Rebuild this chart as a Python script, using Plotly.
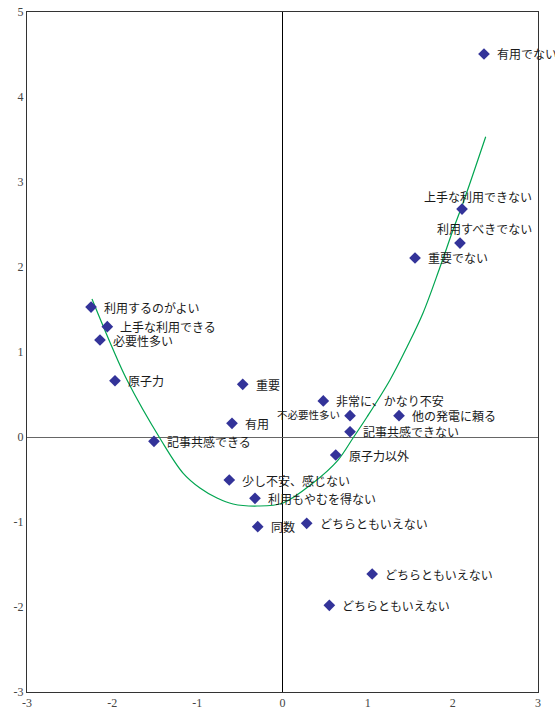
import plotly.graph_objects as go

# ---- data ----
labels = ["有用でない", "上手な利用できない", "利用すべきでない", "重要でない",
          "利用するのがよい", "上手な利用できる", "必要性多い", "原子力", "重要", "有用",
          "記事共感できる", "非常に、かなり不安", "不必要性多い", "他の発電に頼る",
          "記事共感できない", "原子力以外", "少し不安、感じない", "利用もやむを得ない",
          "同数", "どちらともいえない", "どちらともいえない", "どちらともいえない"]
x_vals = [2.366, 2.108, 2.084, 1.556,
          -2.248, -2.057, -2.143, -1.967, -0.467, -0.593,
          -1.509, 0.479, 0.793, 1.368,
          0.793, 0.625, -0.625, -0.323,
          -0.291, 0.284, 1.053, 0.550]
y_vals = [4.506, 2.682, 2.282, 2.106,
          1.529, 1.298, 1.141, 0.662, 0.620, 0.161,
          -0.051, 0.424, 0.251, 0.251,
          0.062, -0.212, -0.506, -0.722,
          -1.055, -1.015, -1.612, -1.980]

# fitted curve, points
curve_x = [-2.237, -2.002, -1.826, -1.427, -1.168, -0.969, -0.769, -0.581, -0.299,
           0.006, 0.358, 0.652, 0.828, 0.992, 1.262, 1.462, 1.650, 1.850, 2.002, 2.120, 2.386]
curve_y = [1.624, 1.059, 0.671, -0.035, -0.424, -0.600, -0.718, -0.788, -0.812,
           -0.776, -0.541, -0.271, -0.012, 0.235, 0.671, 1.059, 1.459, 2.000, 2.435, 2.753, 3.533]

x_ticks = [-3, -2, -1, 0, 1, 2, 3]
y_ticks = [-3, -2, -1, 0, 1, 2, 3, 4, 5]

# ---- figure ----
fig = go.Figure()
fig.add_trace(go.Scatter(x=curve_x, y=curve_y, mode="lines", line_shape="spline",
                         line=dict(color="#00A550", width=1.2), hoverinfo="skip"))
fig.add_trace(go.Scatter(x=x_vals, y=y_vals, mode="markers",
                         marker=dict(symbol="diamond", size=9, color="#333399",
                                     line=dict(width=0))))

FONT = "Noto Sans CJK JP, Noto Sans, sans-serif"
special = {
    1: dict(xanchor="right", xshift=None, yshift=13, right_px=534),
    2: dict(xanchor="right", xshift=None, yshift=15, right_px=534),
    12: dict(xanchor="right", xshift=-8, yshift=1, size=10.5),
}
x0_px, px_per = 282.5, 85.17
for i, (lab, xv, yv) in enumerate(zip(labels, x_vals, y_vals)):
    sp = special.get(i)
    if sp is None:
        fig.add_annotation(x=xv, y=yv, text=lab, showarrow=False, xanchor="left",
                           yanchor="middle", xshift=11, yshift=0,
                           font=dict(family=FONT, size=12, color="#1a1a1a"))
    else:
        xs = sp["xshift"]
        if xs is None:
            xs = sp["right_px"] - (x0_px + xv * px_per)
        fig.add_annotation(x=xv, y=yv, text=lab, showarrow=False, xanchor=sp["xanchor"],
                           yanchor="middle", xshift=xs, yshift=sp["yshift"],
                           font=dict(family=FONT, size=sp.get("size", 12), color="#1a1a1a"))

tick_font = dict(family="Liberation Serif, DejaVu Serif, serif", size=12, color="#444444")
fig.update_layout(
    width=555, height=713,
    margin=dict(l=27, r=17, t=12, b=21, autoexpand=False),
    paper_bgcolor="white", plot_bgcolor="white",
    showlegend=False,
    xaxis=dict(range=[-3, 3], tickvals=x_ticks, ticktext=[str(v) for v in x_ticks],
               showgrid=False, zeroline=True, zerolinecolor="#000000", zerolinewidth=1,
               showline=True, linecolor="#333333", linewidth=1, mirror=True,
               ticks="", tickfont=tick_font, fixedrange=True, automargin=False),
    yaxis=dict(range=[-3, 5], tickvals=y_ticks, ticktext=[str(v) for v in y_ticks],
               showgrid=False, zeroline=True, zerolinecolor="#666666", zerolinewidth=1,
               showline=True, linecolor="#333333", linewidth=1, mirror=True,
               ticks="", tickfont=tick_font, fixedrange=True, automargin=False),
)

fig.write_html("out.html")
